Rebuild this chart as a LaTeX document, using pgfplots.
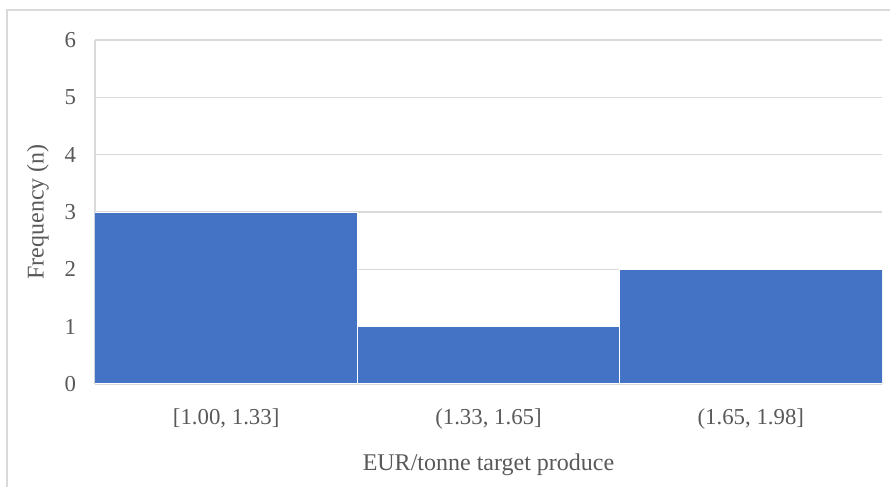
\documentclass[border=0pt]{standalone}
\usepackage{pgfplots}
\pgfplotsset{compat=1.18}
\usepackage{fontspec}
\setmainfont{Liberation Serif}
\definecolor{barblue}{HTML}{4472C4}
\definecolor{gridgray}{HTML}{D9D9D9}
\definecolor{txtgray}{HTML}{595959}
\begin{document}
\begin{tikzpicture}
\useasboundingbox (0,0) rectangle (445pt,243.5pt);
\draw[gridgray, line width=0.6pt] (3.5pt,-2pt) -- (3.5pt,238.5pt) -- (447pt,238.5pt);
\begin{axis}[
  at={(47.5pt,51.5pt)}, anchor=south west,
  scale only axis, width=393.5pt, height=172pt,
  xmin=0, xmax=3, ymin=0, ymax=6,
  ytick={0,1,...,6},
  xtick={0.5,1.5,2.5},
  xticklabels={{[1.00, 1.33]},{(1.33, 1.65]},{(1.65, 1.98]}},
  major tick length=0pt,
  ymajorgrids, grid style={gridgray, line width=0.6pt},
  axis line style={gridgray, line width=0.6pt},
  axis x line*=bottom, axis y line*=left,
  x axis line style={draw=none},
  tick label style={font=\fontsize{11.4}{13}\selectfont, text=txtgray},
  /pgf/number format/assume math mode=true,
  yticklabel style={xshift=-6pt},
  xticklabel style={yshift=-9pt},
  xlabel={EUR/tonne target produce},
  ylabel={Frequency (n)},
  label style={font=\fontsize{12}{14}\selectfont, text=txtgray},
  xlabel style={yshift=-5pt},
  ylabel style={yshift=1pt},
]
\addplot[ybar, bar width=1, fill=barblue, draw=white, line width=0.5pt] coordinates {(0.5,3) (1.5,1) (2.5,2)};
\end{axis}
\end{tikzpicture}
\end{document}
